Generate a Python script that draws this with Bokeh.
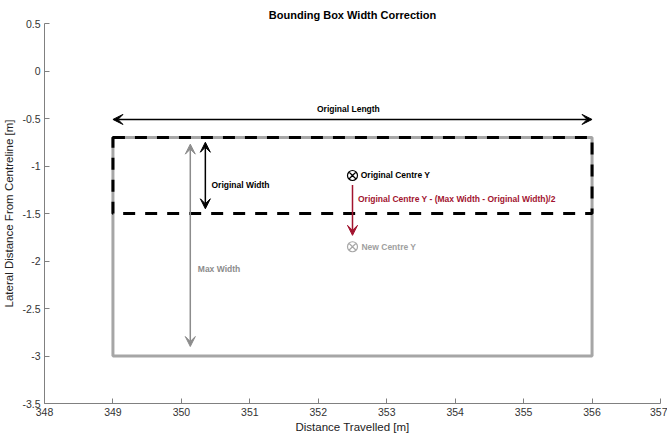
from bokeh.plotting import figure
from bokeh.models import Label, Arrow, VeeHead, FixedTicker
from bokeh.embed import file_html
from bokeh.resources import INLINE

# ---- data ----
x_ticks = [348, 349, 350, 351, 352, 353, 354, 355, 356, 357]
y_ticks = [-3.5, -3.0, -2.5, -2.0, -1.5, -1.0, -0.5, 0.0, 0.5]
y_tick_labels = ["-3.5", "-3", "-2.5", "-2", "-1.5", "-1", "-0.5", "0", "0.5"]

box_left = [349.0]
box_right = [356.0]
orig_top = [-0.7]
orig_bottom = [-1.5]
max_bottom = [-3.0]

centre_x = [352.5]
orig_centre_y = [-1.1]
new_centre_y = [-1.85]

length_arrow = [349.0, 356.0, -0.51]          # x0, x1, y
orig_width_arrow = [350.35, -0.75, -1.45]     # x, y0, y1
max_width_arrow = [350.13, -0.77, -2.90]      # x, y0, y1
shift_arrow = [352.5, -1.20, -1.73]           # x, y0, y1

FONT = "Liberation Sans"
RED = "#a2142f"
GREY_BOX = "#a6a6a6"
GREY_ARROW = "#8c8c8c"

p = figure(frame_width=616, frame_height=380,
           x_range=(348, 357), y_range=(-3.5, 0.5),
           output_backend="svg", toolbar_location=None,
           min_border_left=37, min_border_right=7,
           min_border_top=23, min_border_bottom=30,
           title="Bounding Box Width Correction")
p.title.align = "center"
p.title.text_font = FONT
p.title.text_font_size = "11px"
p.title.text_font_style = "bold"
p.title.text_color = "black"
p.title.standoff = 5
p.title.offset = 0
p.outline_line_color = None
p.grid.visible = False
p.background_fill_color = "white"

for ax in (p.xaxis[0], p.yaxis[0]):
    ax.axis_line_color = "#808080"
    ax.major_tick_line_color = "#808080"
    ax.major_tick_in = 5
    ax.major_tick_out = 0
    ax.minor_tick_line_color = None
    ax.major_label_text_font = FONT
    ax.major_label_text_font_size = "10.5px"
    ax.major_label_text_color = "#333333"
    ax.axis_label_text_font = FONT
    ax.axis_label_text_font_size = "11.5px"
    ax.axis_label_text_font_style = "normal"
    ax.axis_label_text_color = "#222222"

p.xaxis.ticker = FixedTicker(ticks=x_ticks)
p.yaxis.ticker = FixedTicker(ticks=y_ticks)
p.yaxis.major_label_overrides = {t: l for t, l in zip(y_ticks, y_tick_labels)}
p.xaxis.axis_label = "Distance Travelled [m]"
p.yaxis.axis_label = "Lateral Distance From Centreline [m]"
p.xaxis.major_label_standoff = 4
p.xaxis.axis_label_standoff = 2
p.yaxis.major_label_standoff = 4
p.yaxis.axis_label_standoff = 4

# Max-width box (grey solid)
p.quad(left=box_left, right=box_right, top=orig_top, bottom=max_bottom,
       fill_color=None, line_color=GREY_BOX, line_width=3)
# Original box (black dashed)
p.quad(left=box_left, right=box_right, top=orig_top, bottom=orig_bottom,
       fill_color=None, line_color="black", line_width=3, line_dash="12 10")

# Centre markers
p.scatter(x=centre_x, y=orig_centre_y, marker="circle_x", size=10,
          fill_color=None, line_color="black", line_width=1.2)
p.scatter(x=centre_x, y=new_centre_y, marker="circle_x", size=10,
          fill_color=None, line_color="#a8a8a8", line_width=1.2)

def vee(color):
    return VeeHead(size=10, line_color=color, fill_color=color, line_width=1)

p.add_layout(Arrow(x_start=length_arrow[0], x_end=length_arrow[1],
                   y_start=length_arrow[2], y_end=length_arrow[2],
                   start=vee("black"), end=vee("black"),
                   line_color="black", line_width=1.5))
p.add_layout(Arrow(x_start=orig_width_arrow[0], x_end=orig_width_arrow[0],
                   y_start=orig_width_arrow[1], y_end=orig_width_arrow[2],
                   start=vee("black"), end=vee("black"),
                   line_color="black", line_width=1.5))
p.add_layout(Arrow(x_start=max_width_arrow[0], x_end=max_width_arrow[0],
                   y_start=max_width_arrow[1], y_end=max_width_arrow[2],
                   start=vee(GREY_ARROW), end=vee(GREY_ARROW),
                   line_color=GREY_ARROW, line_width=1.5))
p.add_layout(Arrow(x_start=shift_arrow[0], x_end=shift_arrow[0],
                   y_start=shift_arrow[1], y_end=shift_arrow[2],
                   end=vee(RED), line_color=RED, line_width=1.5))

def lab(x, y, text, color="black", align="left", size="8.5px", bold=True):
    p.add_layout(Label(x=x, y=y, text=text, text_color=color, text_align=align,
                       text_baseline="middle", text_font=FONT, text_font_size=size,
                       text_font_style="bold" if bold else "normal"))

lab(352.44, -0.395, "Original Length", align="center")
lab(350.44, -1.205, "Original Width")
lab(352.62, -1.09, "Original Centre Y")
lab(352.58, -1.35, "Original Centre Y - (Max Width - Original Width)/2", color=RED)
lab(352.63, -1.85, "New Centre Y", color="#a0a0a0")
lab(350.24, -2.08, "Max Width", color=GREY_ARROW)

open("out.html", "w").write(file_html(p, INLINE))
